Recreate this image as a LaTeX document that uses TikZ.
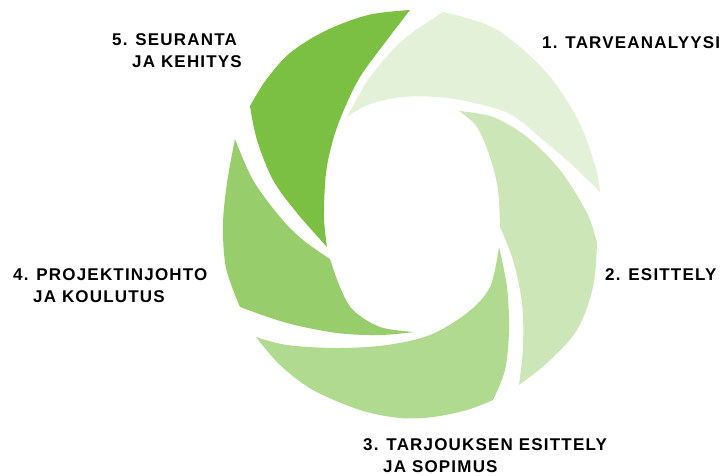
\documentclass[tikz,border=0pt]{standalone}
\usepackage{fontspec}
\setmainfont{Liberation Sans}
\newfontfamily\phasefont{Liberation Sans Bold}[LetterSpace=7]

\definecolor{green1}{HTML}{E4F1D9}
\definecolor{green2}{HTML}{CCE6B7}
\definecolor{green3}{HTML}{B0DA90}
\definecolor{green4}{HTML}{97CD6B}
\definecolor{green5}{HTML}{7BC043}

\tikzstyle{phase} = [anchor=north west, inner sep=0pt, align=left, font=\phasefont\fontsize{17}{22}\selectfont]
\tikzstyle{curve} = [smooth, tension=0.55]

\begin{document}
\begin{tikzpicture}[x=1pt,y=-1pt]
	\useasboundingbox (0,0) rectangle (723,475);
	
	% 1
	\fill[green1] plot[curve] coordinates {(443,12) (496,29) (546,72) (578,120) (595,165) (600,192)}
		-- plot[curve] coordinates {(600,192) (570,163) (543,140) (510,114) (470,102) (437,97) (403,97) (370,104) (347,117)}
		-- plot[curve] coordinates {(347,117) (370,77) (403,40) (443,12)} -- cycle;
	% 2
	\fill[green2] plot[curve] coordinates {(459,111) (493,117) (527,137) (560,170) (587,213) (597,243)}
		-- plot[curve] coordinates {(597,243) (593,287) (577,330) (547,363) (519,385)}
		-- plot[curve] coordinates {(519,385) (523,347) (522,303) (513,260) (500,227)}
		-- plot[curve] coordinates {(500,227) (498,190) (490,157) (477,127) (459,111)} -- cycle;
	% 3
	\fill[green3] plot[curve] coordinates {(499,247) (507,287) (509,330) (505,370) (493,400)}
		-- plot[curve] coordinates {(493,400) (467,410) (433,417) (400,418) (360,410) (313,390) (280,365) (256,337)}
		-- plot[curve] coordinates {(256,337) (287,345) (337,348) (387,345) (430,335) (467,313) (490,287) (499,247)} -- cycle;
	% 4
	\fill[green4] plot[curve] coordinates {(235,139) (227,183) (223,225) (226,268) (240,307)}
		-- plot[curve] coordinates {(240,307) (287,323) (337,333) (380,335) (414,332)}
		-- plot[curve] coordinates {(414,332) (380,327) (353,310) (340,287) (330,259)}
		-- plot[curve] coordinates {(330,259) (303,240) (280,217) (253,180) (235,139)} -- cycle;
	% 5
	\fill[green5] plot[curve] coordinates {(410,10) (368,15) (325,31) (290,53) (266,80) (250,106)}
		-- plot[curve] coordinates {(250,106) (257,140) (273,180) (297,213) (327,247)}
		-- plot[curve] coordinates {(327,247) (324,217) (326,173) (333,140) (343,112) (360,77) (387,40) (410,10)} -- cycle;
	
	\node[phase] (tarve) at (542,36) {1. TARVEANALYYSI};
	\node[phase] (esittely) at (605,268) {2. ESITTELY};
	\node[phase] (tarjous) at (363,438) {3. TARJOUKSEN ESITTELY\\\hspace*{20pt}JA SOPIMUS};
	\node[phase] (projekti) at (13,268) {4. PROJEKTINJOHTO\\\hspace*{20pt}JA KOULUTUS};
	\node[phase] (seuranta) at (112,33) {5. SEURANTA\\\hspace*{20pt}JA KEHITYS};
\end{tikzpicture}
\end{document}
